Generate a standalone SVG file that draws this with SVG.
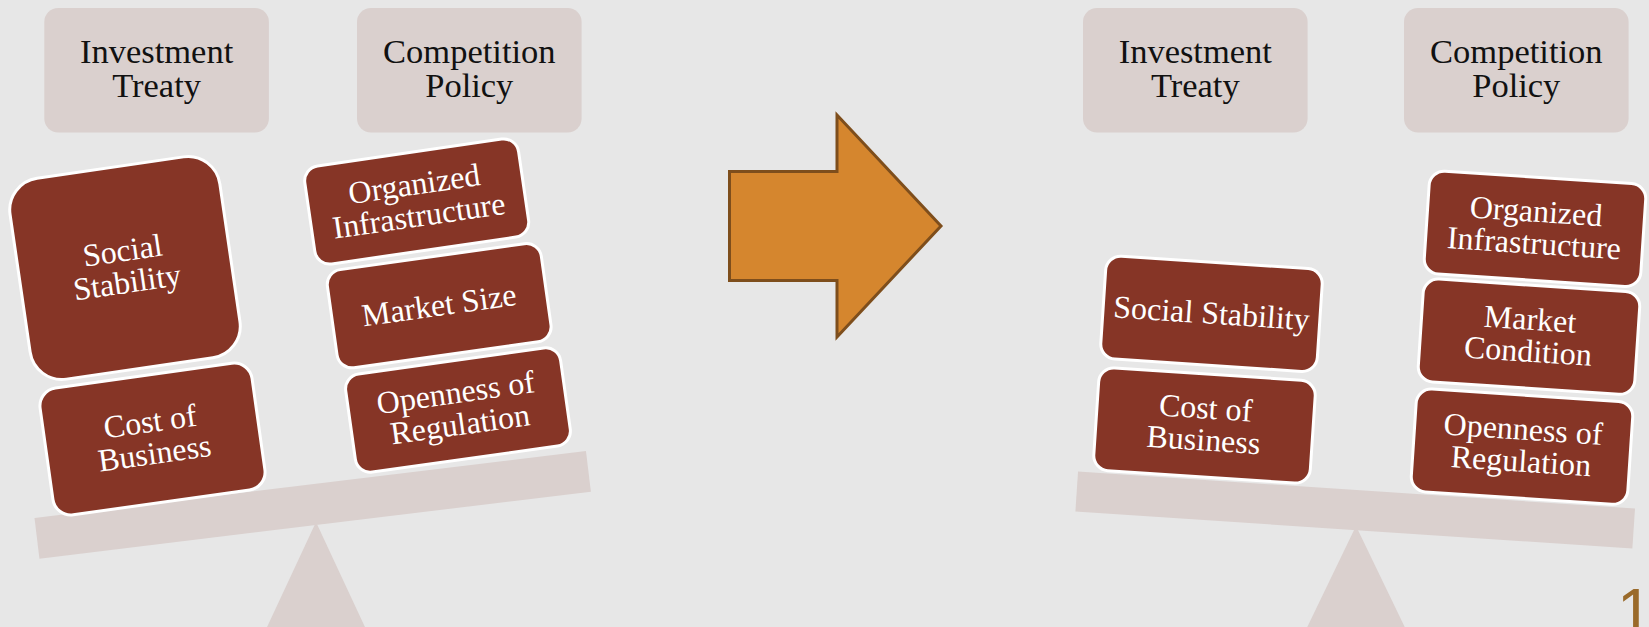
<svg xmlns="http://www.w3.org/2000/svg" width="1649" height="627" viewBox="0 0 1649 627">
<style>
.bg{fill:#e7e7e7}
.hdr{fill:#dad0ce}
.beam{fill:#dad0ce}
.htxt{font-family:"Liberation Serif",serif;font-size:34.5px;fill:#111;text-anchor:middle}
.box{fill:#863526;stroke:#ffffff;stroke-width:3}
.btxt{font-family:"Liberation Serif",serif;font-size:32px;fill:#ffffff;text-anchor:middle}
.arrow{fill:#d5862e;stroke:#7e4e1c;stroke-width:3;stroke-linejoin:miter}
.num{font-family:"Liberation Sans",sans-serif;font-size:64px;fill:#9a6a2a}
</style>
<rect class="bg" x="0" y="0" width="1649" height="627"/>

<!-- Left panel: fulcrum and beam -->
<g id="left-fulcrum"><polygon class="beam" points="316,522 261,640 371,640"/></g>
<g id="left-beam"><rect class="beam" x="-277.75" y="-20.5" width="555.5" height="41" transform="translate(312.7,504.8) rotate(-6.93)"/></g>

<g id="left-investment-treaty">
<rect class="hdr" x="44.3" y="8" width="224.6" height="124.5" rx="14"/>
<text class="htxt" x="156.6" y="62.5">Investment</text>
<text class="htxt" x="156.6" y="97">Treaty</text>
</g>
<g id="left-competition-policy">
<rect class="hdr" x="357" y="8" width="224.6" height="124.5" rx="14"/>
<text class="htxt" x="469.3" y="62.5">Competition</text>
<text class="htxt" x="469.3" y="97">Policy</text>
</g>

<g id="left-social-stability" transform="translate(125,268) rotate(-8.3)">
<rect class="box" x="-106" y="-101.5" width="212" height="203" rx="32"/>
<text class="btxt" x="0" y="-7">Social</text>
<text class="btxt" x="0" y="25">Stability</text>
</g>
<g id="left-cost-of-business" transform="translate(152.5,439) rotate(-8)">
<rect class="box" x="-107" y="-64" width="214" height="128" rx="18"/>
<text class="btxt" x="0" y="-7">Cost of</text>
<text class="btxt" x="0" y="25">Business</text>
</g>
<g id="left-organized-infrastructure" transform="translate(416.7,201.5) rotate(-8.3)">
<rect class="box" x="-108" y="-49.5" width="216" height="99" rx="15"/>
<text class="btxt" x="0" y="-7">Organized</text>
<text class="btxt" x="0" y="25">Infrastructure</text>
</g>
<g id="left-market-size" transform="translate(439.2,305.7) rotate(-8)">
<rect class="box" x="-108" y="-49.5" width="216" height="99" rx="15"/>
<text class="btxt" x="0" y="10">Market Size</text>
</g>
<g id="left-openness-of-regulation" transform="translate(458,410) rotate(-8)">
<rect class="box" x="-108.5" y="-49.5" width="217" height="99" rx="15"/>
<text class="btxt" x="0" y="-7">Openness of</text>
<text class="btxt" x="0" y="25">Regulation</text>
</g>

<!-- Arrow -->
<g id="arrow">
<path class="arrow" d="M729.5,171.5 H837 V115 L941,226 L837,337 V280.5 H729.5 Z"/>
</g>

<!-- Right panel -->
<g id="right-fulcrum"><polygon class="beam" points="1356,526 1301,640 1411,640"/></g>
<g id="right-beam"><rect class="beam" x="-279.1" y="-20" width="558.2" height="40" transform="translate(1355.2,510) rotate(3.8)"/></g>

<g id="right-investment-treaty">
<rect class="hdr" x="1083" y="8" width="224.6" height="124.5" rx="14"/>
<text class="htxt" x="1195.3" y="62.5">Investment</text>
<text class="htxt" x="1195.3" y="97">Treaty</text>
</g>
<g id="right-competition-policy">
<rect class="hdr" x="1404" y="8" width="224.6" height="124.5" rx="14"/>
<text class="htxt" x="1516.3" y="62.5">Competition</text>
<text class="htxt" x="1516.3" y="97">Policy</text>
</g>

<g id="right-social-stability" transform="translate(1211.5,313.8) rotate(3.8)">
<rect class="box" x="-108.5" y="-51.5" width="217" height="103" rx="15"/>
<text class="btxt" x="0" y="10">Social Stability</text>
</g>
<g id="right-cost-of-business" transform="translate(1204.5,425.5) rotate(3.8)">
<rect class="box" x="-108.5" y="-51.5" width="217" height="103" rx="15"/>
<text class="btxt" x="0" y="-7">Cost of</text>
<text class="btxt" x="0" y="25">Business</text>
</g>
<g id="right-organized-infrastructure" transform="translate(1535,228.8) rotate(3.8)">
<rect class="box" x="-108.5" y="-51.5" width="217" height="103" rx="15"/>
<text class="btxt" x="0" y="-7">Organized</text>
<text class="btxt" x="0" y="25">Infrastructure</text>
</g>
<g id="right-market-condition" transform="translate(1529,336.7) rotate(3.8)">
<rect class="box" x="-108.5" y="-51.5" width="217" height="103" rx="15"/>
<text class="btxt" x="0" y="-7">Market</text>
<text class="btxt" x="0" y="25">Condition</text>
</g>
<g id="right-openness-of-regulation" transform="translate(1522,446.7) rotate(3.8)">
<rect class="box" x="-108.5" y="-51.5" width="217" height="103" rx="15"/>
<text class="btxt" x="0" y="-7">Openness of</text>
<text class="btxt" x="0" y="25">Regulation</text>
</g>

<text class="num" x="1617" y="634">1</text>
</svg>
